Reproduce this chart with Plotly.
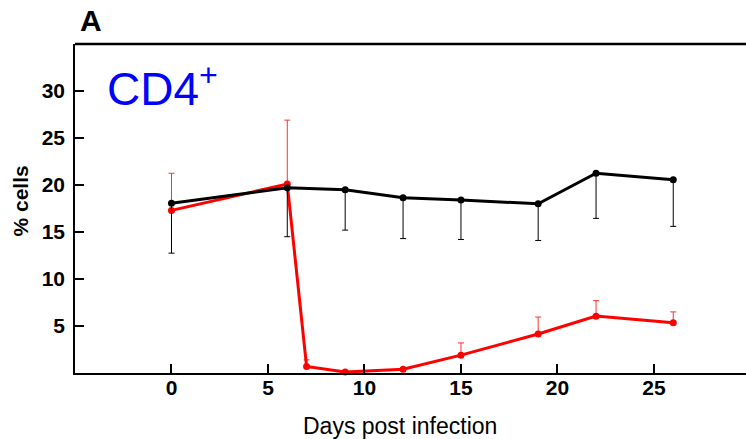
import plotly.graph_objects as go

# Data
days_black = [0, 6, 9, 12, 15, 19, 22, 26]
cd4_black = [18.05, 19.7, 19.5, 18.65, 18.4, 18.0, 21.25, 20.55]
cd4_black_err_minus = [5.3, 5.2, 4.3, 4.35, 4.2, 3.9, 4.8, 4.95]

days_red = [0, 6, 7, 9, 12, 15, 19, 22, 26]
cd4_red = [17.3, 20.1, 0.7, 0.1, 0.4, 1.9, 4.15, 6.05, 5.35]
cd4_red_err_plus = [3.95, 6.8, 0.7, 0, 0, 1.3, 1.8, 1.65, 1.15]

x_ticks = [0, 5, 10, 15, 20, 25]
y_ticks = [5, 10, 15, 20, 25, 30]

FONT = "Liberation Sans, Arial, sans-serif"

fig = go.Figure()

fig.add_trace(go.Scatter(
    x=days_red, y=cd4_red, mode="lines+markers",
    line=dict(color="#FF0000", width=3),
    marker=dict(color="#FF0000", size=7),
    error_y=dict(type="data", symmetric=False, array=cd4_red_err_plus,
                 arrayminus=[0] * len(cd4_red), color="#FF3030",
                 thickness=1, width=3),
    showlegend=False, cliponaxis=False,
))
fig.add_trace(go.Scatter(
    x=days_black, y=cd4_black, mode="lines+markers",
    line=dict(color="#000000", width=3),
    marker=dict(color="#000000", size=7),
    error_y=dict(type="data", symmetric=False, array=[0] * len(cd4_black),
                 arrayminus=cd4_black_err_minus, color="#000000",
                 thickness=1, width=3),
    showlegend=False, cliponaxis=False,
))

fig.update_layout(
    width=746, height=439,
    margin=dict(l=75, r=0, t=44, b=66),
    plot_bgcolor="white", paper_bgcolor="white",
    font=dict(family=FONT, color="black"),
    xaxis=dict(
        range=[-5, 29.77], tickvals=x_ticks, ticks="inside", ticklen=9,
        tickwidth=1.5, tickcolor="black", showline=True, linecolor="black",
        linewidth=1.5, showgrid=False, zeroline=False, automargin=False,
        ticklabelstandoff=-5,
        tickfont=dict(size=21, family=FONT, weight="bold"),
    ),
    yaxis=dict(
        range=[0, 35], tickvals=y_ticks, ticks="inside", ticklen=9,
        tickwidth=1.5, tickcolor="black", showline=True, linecolor="black",
        linewidth=1.5, showgrid=False, zeroline=False, automargin=False,
        ticklabelstandoff=4,
        tickfont=dict(size=21, family=FONT, weight="bold"),
    ),
    shapes=[dict(type="line", xref="paper", yref="paper", x0=0, x1=1, y0=1, y1=1,
                 line=dict(color="black", width=2.5))],
    annotations=[
        dict(text="Days post infection", xref="paper", yref="paper",
             x=0, xshift=325, y=0, yshift=-53, xanchor="center", yanchor="middle",
             showarrow=False, font=dict(size=23, family=FONT)),
        dict(text="% cells", xref="paper", yref="paper", x=0, xshift=-55,
             y=0.5, yshift=7, textangle=-90, xanchor="center", yanchor="middle",
             showarrow=False, font=dict(size=21, family=FONT, weight="bold")),
        dict(text="A", xref="paper", yref="paper", x=0.005, y=1.0, yshift=42,
             xanchor="left", yanchor="top", showarrow=False,
             font=dict(size=30, family=FONT, weight="bold", color="black")),
        dict(text="CD4<sup>+</sup>", xref="paper", yref="paper", x=0.045, y=1.0, yshift=-11,
             xanchor="left", yanchor="top", showarrow=False,
             font=dict(size=46, family=FONT, color="#0000FF")),
    ],
)

fig.write_html("out.html", config={"displayModeBar": False},
               post_script="document.body.style.margin='0';document.body.style.padding='0';")
